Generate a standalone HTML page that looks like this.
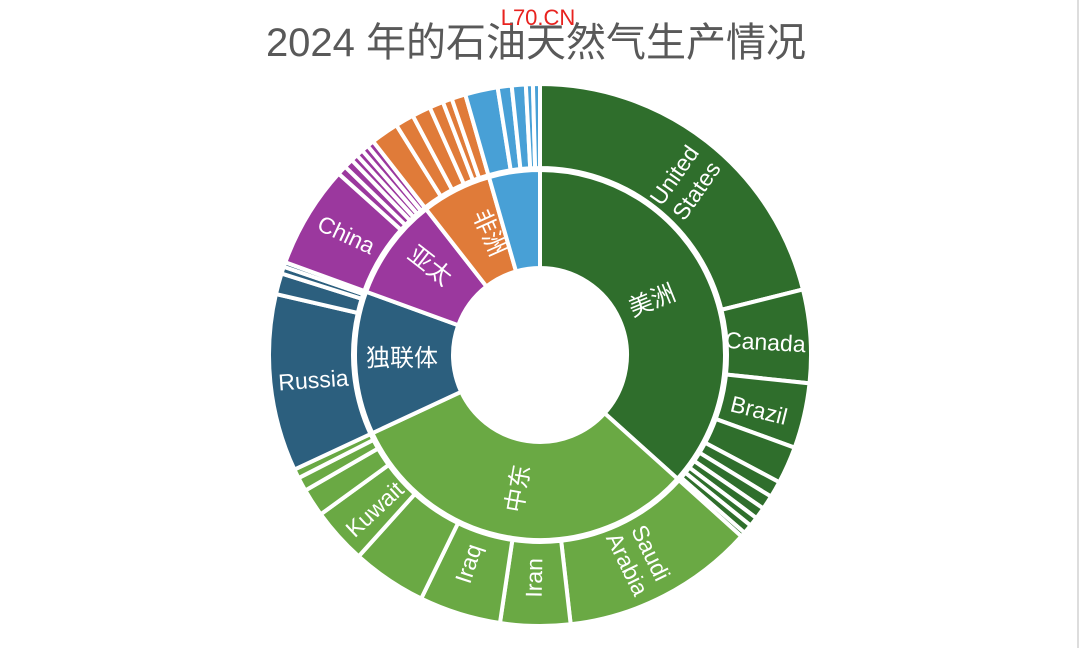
<!DOCTYPE html>
<html><head><meta charset="utf-8"><style>
body{margin:0;width:1080px;height:648px;background:#fff;overflow:hidden}
svg{display:block}
text{font-family:"Liberation Sans","Noto Sans CJK SC",sans-serif;fill:#fff}
</style></head><body>
<svg id="s" width="1080" height="648" viewBox="0 0 1080 648">
<rect x="0" y="0" width="1080" height="648" fill="#fff"/>
<line x1="1078" y1="0" x2="1078" y2="648" stroke="#ddd" stroke-width="2"/>
<g id="arcs"></g>
<text x="536" y="56" text-anchor="middle" font-size="40" style="fill:#595959">2024 年的石油天然气生产情况</text>
<text x="538" y="25" text-anchor="middle" font-size="22" style="fill:#e8231f">L70.CN</text>
<g font-size="23">
<text transform="translate(684,182) rotate(-55)" text-anchor="middle"><tspan x="0" dy="-4">United</tspan><tspan x="0" dy="27">States</tspan></text>
<text transform="translate(765,350) rotate(3)" text-anchor="middle">Canada</text>
<text transform="translate(757,418) rotate(14)" text-anchor="middle">Brazil</text>
<text transform="translate(640,558) rotate(64)" text-anchor="middle"><tspan x="0" dy="-4">Saudi</tspan><tspan x="0" dy="26">Arabia</tspan></text>
<text transform="translate(542,578) rotate(-89)" text-anchor="middle">Iran</text>
<text transform="translate(476,566) rotate(-72)" text-anchor="middle">Iraq</text>
<text transform="translate(380,515) rotate(-43)" text-anchor="middle">Kuwait</text>
<text transform="translate(314,388) rotate(-4)" text-anchor="middle">Russia</text>
<text transform="translate(343,242) rotate(25)" text-anchor="middle">China</text>
</g>
<g font-size="24">
<text transform="translate(655,308) rotate(-22)" text-anchor="middle">美洲</text>
<text transform="translate(526,490) rotate(-80)" text-anchor="middle">中东</text>
<text transform="translate(402,366)" text-anchor="middle">独联体</text>
<text transform="translate(425,272) rotate(38)" text-anchor="middle">亚太</text>
<text transform="translate(482,236) rotate(66)" text-anchor="middle">非洲</text>
</g>
</svg>
<script>
var cx=540,cy=355;
function pt(r,a){a=a*Math.PI/180;return [cx+r*Math.sin(a),cy-r*Math.cos(a)];}
function arc(r0,r1,a0,a1,c){var l=(a1-a0)>180?1:0;var p=pt(r1,a0),q=pt(r1,a1),u=pt(r0,a1),v=pt(r0,a0);
return '<path d="M'+p+' A'+r1+','+r1+' 0 '+l+' 1 '+q+' L'+u+' A'+r0+','+r0+' 0 '+l+' 0 '+v+'Z" fill="'+c+'" stroke="#fff" stroke-width="4"/>';}
var A='#2f6e2c',M='#6aa944',C='#2c5f7e',P='#9b389e',F='#e07b39',E='#48a0d6';
var inner=[[0,132,A],[132,245,M],[245,290,C],[290,322,P],[322,344,F],[344,360,E]];
var outer=[[0,76,A],[76,96,A],[96,110,A],[110,118,A],[118,121.5,A],[121.5,124.5,A],[124.5,127,A],[127,129,A],[129,131,A],[131,132,A],
[132,173.5,M],[173.5,188.5,M],[188.5,206,M],[206,222,M],[222,234,M],[234,240,M],[240,243,M],[243,245,M],
[245,283,C],[283,287.5,C],[287.5,289,C],[289,290,C],
[290,312,P],[312,314,P],[314,316,P],[316,317.5,P],[317.5,319,P],[319,320.5,P],[320.5,322,P],
[322,328,F],[328,332,F],[332,336,F],[336,339,F],[339,341,F],[341,344,F],
[344,351,E],[351,354,E],[354,357,E],[357,358.5,E],[358.5,360,E]];
var h='';inner.forEach(function(s){h+=arc(87,185,s[0],s[1],s[2]);});
outer.forEach(function(s){h+=arc(187,271,s[0],s[1],s[2]);});
document.getElementById('arcs').innerHTML=h;
</script>
</body></html>
